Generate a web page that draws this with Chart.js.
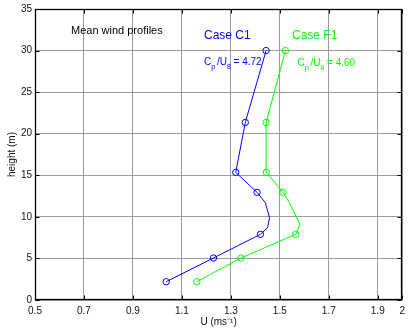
<!DOCTYPE html>
<html>
<head>
<meta charset="utf-8">
<script src="https://cdn.jsdelivr.net/npm/chart.js@4"></script>
<style>
    html, body { margin: 0; padding: 0; background: #fff; }
    #wrap { width: 410px; height: 336px; }
</style>
</head>
<body>
<div id="wrap"><canvas id="chartWind" width="410" height="336"></canvas></div>
<script>
(function () {
    'use strict';

    const BLUE  = '#0000FF';
    const GREEN = '#00FF00';
    const GRID  = '#9a9a9a';
    const FONT  = '"Liberation Sans", Arial, sans-serif';

    // measured points (circles)
    const heights = [2.2, 5.05, 7.9, 12.95, 15.35, 21.35, 30];
    const uC1     = [1.036, 1.229, 1.421, 1.407, 1.320, 1.359, 1.444];
    const uF1     = [1.161, 1.341, 1.565, 1.513, 1.445, 1.444, 1.523];

    // profile curves drawn through the points
    const curveC1Heights = [2.2, 5.05, 7.9, 8.7, 9.9, 11.7, 12.95, 15.35, 21.35, 30];
    const curveC1U       = [1.036, 1.229, 1.421, 1.450, 1.458, 1.441, 1.407, 1.320, 1.359, 1.444];
    const curveF1Heights = [2.2, 5.05, 7.9, 9.1, 11.7, 12.95, 15.35, 21.35, 30];
    const curveF1U       = [1.161, 1.341, 1.565, 1.582, 1.539, 1.513, 1.445, 1.444, 1.523];

    const xTicks = [0.5, 0.7, 0.9, 1.1, 1.3, 1.5, 1.7, 1.9, 2];
    const yTicks = [0, 5, 10, 15, 20, 25, 30, 35];

    const cpC1 = '4.72';
    const cpF1 = '4.60';

    function pts(us, hs) {
        return us.map((u, i) => ({ x: u, y: hs[i] }));
    }

    function curve(label, us, hs, color) {
        return {
            label: label,
            data: pts(us, hs),
            showLine: true,
            borderColor: color,
            borderWidth: 1,
            pointRadius: 0,
            pointHoverRadius: 0,
            tension: 0
        };
    }

    function markers(label, us, hs, color) {
        return {
            label: label,
            data: pts(us, hs),
            showLine: false,
            borderColor: color,
            backgroundColor: 'transparent',
            borderWidth: 1,
            pointRadius: 3.2,
            pointStyle: 'circle'
        };
    }

    // text with subscripts: runs of [text, size, dy, gapAfter]
    function drawRuns(ctx, x, y, runs, color) {
        ctx.fillStyle = color;
        ctx.textBaseline = 'alphabetic';
        ctx.textAlign = 'left';
        runs.forEach(r => {
            ctx.font = r[1] + 'px ' + FONT;
            ctx.fillText(r[0], x, y + r[2]);
            x += ctx.measureText(r[0]).width + (r[3] || 0);
        });
    }

    function cpRuns(val) {
        return [['C', 10, 0], ['p', 7.5, 4, 1.5], ['/U', 10, 0], ['8', 7, 4], [' = ' + val, 10, 0]];
    }

    const frame = {
        id: 'frame',
        afterDraw(chart) {
            const { ctx, chartArea: a, scales } = chart;
            const l = Math.round(a.left) + 0.5, r = Math.round(a.right) - 0.5;
            const t = Math.round(a.top) + 0.5, b = Math.round(a.bottom) - 0.5;
            ctx.save();
            ctx.strokeStyle = '#000';
            ctx.lineWidth = 1;
            ctx.beginPath();
            yTicks.forEach(v => {
                const py = Math.round(scales.y.getPixelForValue(v)) + 0.5;
                ctx.moveTo(l, py); ctx.lineTo(l + 4, py);
                ctx.moveTo(r, py); ctx.lineTo(r - 4, py);
            });
            xTicks.forEach(v => {
                const px = Math.round(scales.x.getPixelForValue(v)) + 0.5;
                ctx.moveTo(px, b); ctx.lineTo(px, b - 4);
                ctx.moveTo(px, t); ctx.lineTo(px, t + 4);
            });
            ctx.stroke();
            ctx.lineWidth = 1.3;
            ctx.strokeRect(l, t, r - l, b - t);

            drawRuns(ctx, 71, 34, [['Mean wind profiles', 11, 0]], '#000');

            drawRuns(ctx, 204, 39, [['Case C1', 12, 0]], BLUE);
            drawRuns(ctx, 292, 39, [['Case F1', 12, 0]], GREEN);

            drawRuns(ctx, 204, 65, cpRuns(cpC1), BLUE);
            drawRuns(ctx, 297.5, 66, cpRuns(cpF1), GREEN);
            ctx.restore();
        }
    };

    function setTicks(values) {
        return scale => { scale.ticks = values.map(v => ({ value: v })); };
    }

    new Chart(document.getElementById('chartWind'), {
        type: 'scatter',
        data: {
            datasets: [
                curve('C1 profile', curveC1U, curveC1Heights, BLUE),
                curve('F1 profile', curveF1U, curveF1Heights, GREEN),
                markers('Case C1', uC1, heights, BLUE),
                markers('Case F1', uF1, heights, GREEN)
            ]
        },
        options: {
            responsive: false,
            animation: false,
            layout: { padding: { top: 9, right: 3, left: 0, bottom: 0 } },
            plugins: {
                legend: { display: false },
                tooltip: { enabled: false }
            },
            scales: {
                x: {
                    type: 'linear',
                    min: 0.5,
                    max: 2,
                    afterBuildTicks: setTicks(xTicks),
                    afterFit: s => { s.height = 36; },
                    border: { display: false },
                    grid: {
                        color: GRID,
                        lineWidth: 1,
                        drawTicks: false,
                        borderDash: [1, 3]
                    },
                    ticks: {
                        padding: 5,
                        maxRotation: 0,
                        autoSkip: false,
                        color: '#111',
                        font: { family: FONT, size: 10 },
                        callback: v => String(v)
                    },
                    title: {
                        display: true,
                        text: 'U (ms⁻¹)',
                        color: '#111',
                        font: { family: FONT, size: 10 },
                        padding: { top: 8, bottom: 8 }
                    }
                },
                y: {
                    type: 'linear',
                    min: 0,
                    max: 35,
                    afterBuildTicks: setTicks(yTicks),
                    afterFit: s => { s.width = 35; },
                    border: { display: false },
                    grid: {
                        color: GRID,
                        lineWidth: 1,
                        drawTicks: false,
                        borderDash: [1, 3]
                    },
                    ticks: {
                        padding: 3,
                        autoSkip: false,
                        color: '#111',
                        font: { family: FONT, size: 10 },
                        callback: v => String(v)
                    },
                    title: {
                        display: true,
                        text: 'height (m)',
                        color: '#111',
                        font: { family: FONT, size: 10 },
                        padding: { top: 6, bottom: 0 }
                    }
                }
            }
        },
        plugins: [frame]
    });
})();
</script>
</body>
</html>
